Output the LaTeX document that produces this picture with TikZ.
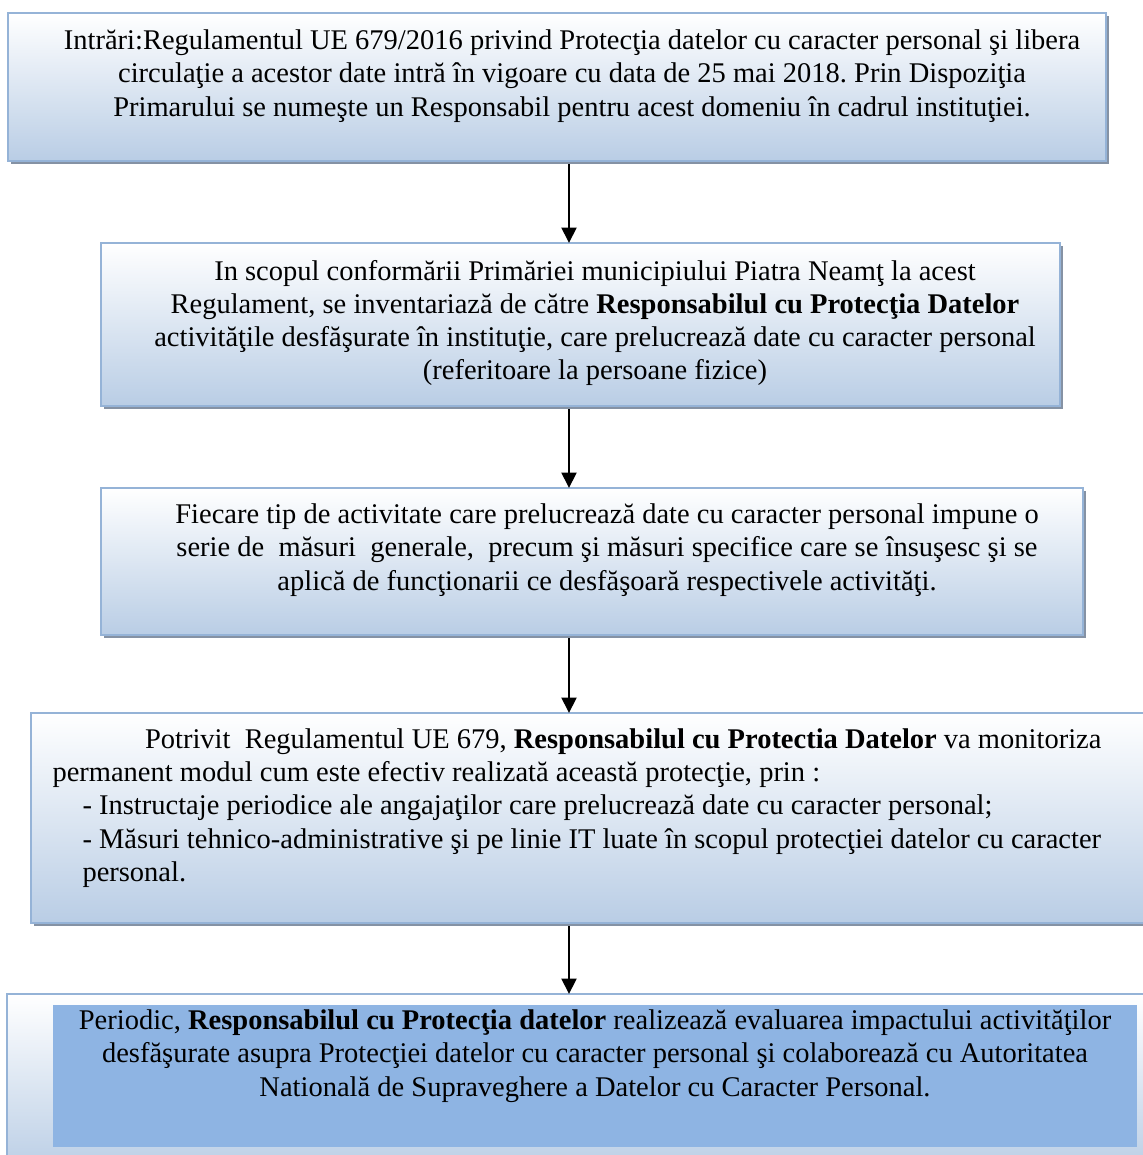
\documentclass[tikz,border=0pt]{standalone}
\usepackage{fontspec}
\setmainfont{Liberation Serif}
\usepackage{xcolor}
\usepackage{tikz}
\usetikzlibrary{arrows.meta,positioning,fit,shadows}
\definecolor{boxedge}{HTML}{95B3D7}
\definecolor{boxblue}{HTML}{B9CDE5}
\definecolor{deepblue}{HTML}{8EB4E3}
\definecolor{shadegray}{HTML}{8592A4}
\tikzset{
    stepbox/.style={draw=boxedge,line width=1pt,top color=white,bottom color=boxblue,
      inner sep=0pt,outer sep=0pt,
      drop shadow={shadow xshift=1.3pt,shadow yshift=-1.3pt,fill=shadegray,opacity=1}},
    innerbox/.style={fill=deepblue,inner sep=0pt,outer sep=0pt},
    steptext/.style={inner sep=0pt,align=center,
      font=\fontsize{11.4}{13.3}\selectfont\frenchspacing},
    flowarrow/.style={-{Triangle[length=6.2pt,width=6pt]},draw=black,
      line width=0.8pt}
}

\begin{document}
\begin{tikzpicture}[x=0.4pt,y=-0.4pt]
  \useasboundingbox (0,0) rectangle (1143,1155);
  \clip (0,0) rectangle (1143,1155);
  \coordinate (ax) at (569,0);
  % the five steps
  \node[stepbox,fit={(8,13) (1106,161)}] (s1) {};
  \node[stepbox,fit={(101,243) (1060,406)}] (s2) {};
  \node[stepbox,fit={(101,488) (1083,635)}] (s3) {};
  \node[stepbox,fit={(31,713) (1152,923)}] (s4) {};
  \node[stepbox,fit={(7,994) (1152,1175)}] (s5) {};
  \node[innerbox,fit={(53,1005) (1137,1147)}] (s5in) {};
  \node[steptext] (t1) at (572,76) {Intrări:Regulamentul UE 679/2016 privind Protecţia datelor cu caracter personal şi libera\\
    circulaţie a acestor date intră în vigoare cu data de 25 mai 2018. Prin Dispoziţia\\
    Primarului se numeşte un Responsabil pentru acest domeniu în cadrul instituţiei.};
  \node[steptext] (t2) at (595,323) {In scopul conformării Primăriei municipiului Piatra Neamţ la acest\\
    Regulament, se inventariază de către \textbf{Responsabilul cu Protecţia Datelor}\\
    activităţile desfăşurate în instituţie, care prelucrează date cu caracter personal\\
    (referitoare la persoane fizice)};
  \node[steptext] (t3) at (607,550) {Fiecare tip de activitate care prelucrează date cu caracter personal impune o\\
    serie de~ măsuri~ generale,~ precum şi măsuri specifice care se însuşesc şi se\\
    aplică de funcţionarii ce desfăşoară respectivele activităţi.};
  \node[steptext,align=left,anchor=west] (t4) at (52,808) {\hspace*{37pt}Potrivit~ Regulamentul UE 679, \textbf{Responsabilul cu Protectia Datelor} va monitoriza\\
    permanent modul cum este efectiv realizată această protecţie, prin :\\
    \hspace*{12pt}- Instructaje periodice ale angajaţilor care prelucrează date cu caracter personal;\\
    \hspace*{12pt}- Măsuri tehnico-administrative şi pe linie IT luate în scopul protecţiei datelor cu caracter\\
    \hspace*{12pt}personal.};
  \node[steptext] (t5) at (595,1056) {Periodic, \textbf{Responsabilul cu Protecţia datelor} realizează evaluarea impactului activităţilor\\
    desfăşurate asupra Protecţiei datelor cu caracter personal şi colaborează cu Autoritatea\\
    Natională de Supraveghere a Datelor cu Caracter Personal.};
  % arrows between steps
  \draw[flowarrow] ([yshift=-1.3pt]s1.south -| ax) -- (s2.north -| ax);
  \draw[flowarrow] ([yshift=-1.3pt]s2.south -| ax) -- (s3.north -| ax);
  \draw[flowarrow] ([yshift=-1.3pt]s3.south -| ax) -- (s4.north -| ax);
  \draw[flowarrow] ([yshift=-1.3pt]s4.south -| ax) -- (s5.north -| ax);
\end{tikzpicture}
\end{document}
